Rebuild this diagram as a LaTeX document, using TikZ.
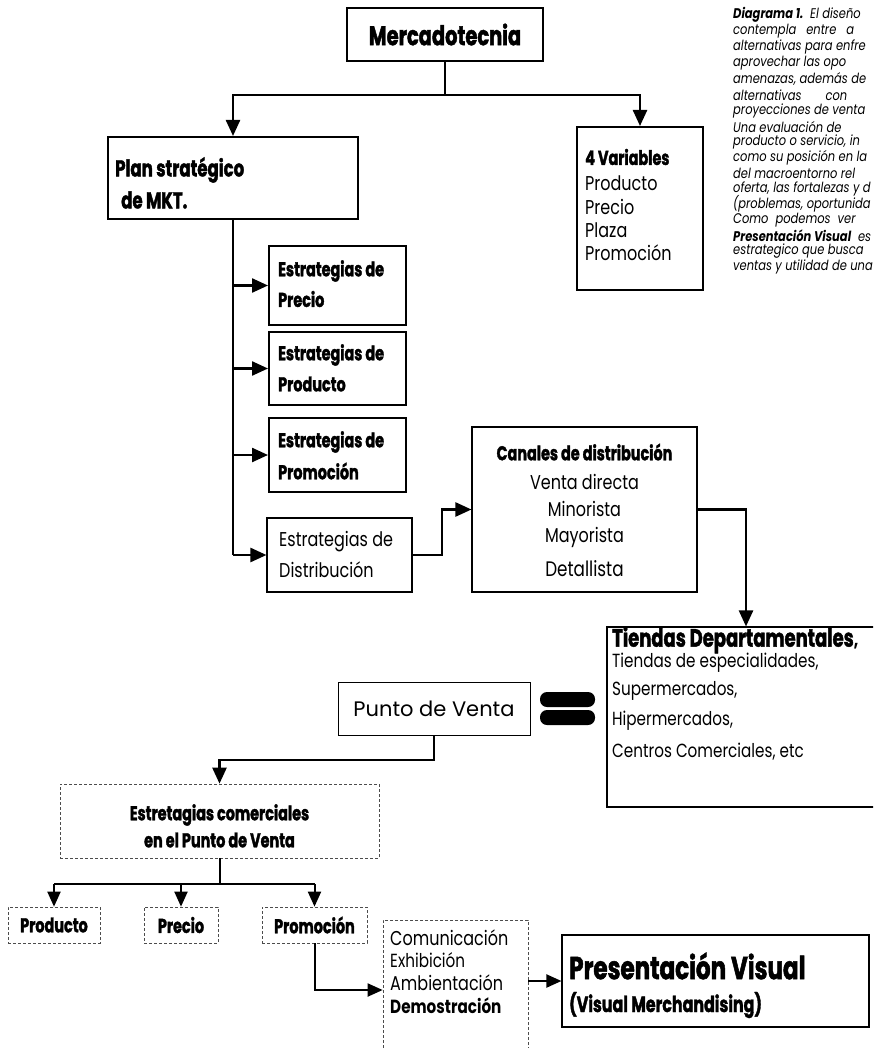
\documentclass[tikz,border=0pt]{standalone}
\usepackage{fontspec}
\setmainfont{Poppins}
\newfontfamily\rg{Poppins}[FakeStretch=0.8]
\newfontfamily\rgw{Poppins}
\newfontfamily\hv{Poppins}[FakeStretch=0.72, FakeBold=1.6]
\newfontfamily\cp{Poppins}[FakeStretch=0.82]
\usetikzlibrary{arrows.meta}
\newcommand\fHV[1]{\hv\bfseries\fontsize{#1}{#1}\selectfont}
\newcommand\fRG[1]{\rg\fontsize{#1}{#1}\selectfont}
\newcommand\fCP{\cp\itshape\fontsize{14}{14}\selectfont}
\begin{document}
\begin{tikzpicture}[x=1pt,y=-1pt,
  bx/.style={draw, line width=2pt, inner sep=0pt},
  tb/.style={draw, line width=1.1pt, inner sep=0pt},
  db/.style={draw=black!70, densely dashed, line width=0.7pt, inner sep=0pt},
  conn/.style={line width=2.4pt},
  arr/.style={line width=2.4pt, -{Triangle[length=16pt,width=14pt]}},
  arrb/.style={line width=2pt, -{Triangle[length=15pt,width=13pt]}},
  tx/.style={inner sep=0pt, anchor=west},
  tc/.style={inner sep=0pt},
]
\useasboundingbox (0,0) rectangle (873,1048);
\clip (0,0) rectangle (873,1048);

% ---------- top ----------
\node[bx, minimum width=196pt, minimum height=53pt, font=\fHV{27}] (merc) at (445,34.5) {Mercadotecnia};

\node[bx, minimum width=250pt, minimum height=82pt] (plan) at (233,178) {};
\node[tx, font=\fHV{23}] (planT1) at (115,170) {Plan stratégico};
\node[tx, font=\fHV{23}] (planT2) at (121,200) {de MKT.};

\node[bx, minimum width=126pt, minimum height=163pt] (vars) at (640,208.5) {};
\node[tx, font=\fHV{20}] (v0) at (585,157) {4 Variables};
\node[tx, font=\fRG{20}] (v1) at (585,183) {Producto};
\node[tx, font=\fRG{20}] (v2) at (585,207) {Precio};
\node[tx, font=\fRG{20}] (v3) at (585,230) {Plaza};
\node[tx, font=\fRG{20}] (v4) at (585,253) {Promoción};

\coordinate (mj) at (445,95);
\draw[conn] (merc.south) -- (mj);
\draw[arr] (mj) -| (plan.north);
\draw[arr] (mj) -| (vars.north);

% ---------- estrategias ----------
\node[bx, minimum width=137pt, minimum height=79pt] (ePrecio) at (337.5,285.5) {};
\node[tx, font=\fHV{20}] (ePrecioT1) at (278,271) {Estrategias de};
\node[tx, font=\fHV{20}] (ePrecioT2) at (278,299) {Precio};

\node[bx, minimum width=137pt, minimum height=73pt] (eProd) at (337.5,368.5) {};
\node[tx, font=\fHV{20}] (eProdT1) at (278,355) {Estrategias de};
\node[tx, font=\fHV{20}] (eProdT2) at (278,384) {Producto};

\node[bx, minimum width=137pt, minimum height=74pt] (ePromo) at (337.5,455) {};
\node[tx, font=\fHV{20}] (ePromoT1) at (278,442) {Estrategias de};
\node[tx, font=\fHV{20}] (ePromoT2) at (278,471) {Promoción};

\node[tb, minimum width=145pt, minimum height=74pt] (eDist) at (339.5,555) {};
\node[tx, font=\fRG{20}] (eDistT1) at (279,542) {Estrategias de};
\node[tx, font=\fRG{20}] (eDistT2) at (279,570) {Distribución};

\draw[conn] (plan.south) -- (plan.south |- eDist.west);
\draw[arr] (plan.south |- ePrecio.west) -- (ePrecio.west);
\draw[arr] (plan.south |- eProd.west) -- (eProd.west);
\draw[arr] (plan.south |- ePromo.west) -- (ePromo.west);
\draw[arr] (plan.south |- eDist.west) -- (eDist.west);

% ---------- canales ----------
\node[tb, minimum width=225pt, minimum height=165pt] (canales) at (584.5,509.5) {};
\node[tc, font=\fHV{20}] (c0) at (584.5,452) {Canales de distribución};
\node[tc, font=\fRG{20}] (c1) at (584.5,482) {Venta directa};
\node[tc, font=\fRG{20}] (c2) at (584.5,509) {Minorista};
\node[tc, font=\fRG{20}] (c3) at (584.5,537) {Mayorista};
\node[tc, font=\fRG{21}] (c4) at (584.5,569) {Detallista};

\coordinate (dk) at (442,0);
\draw[arr] (eDist.east) -- (eDist.east -| dk) -- (dk |- canales.west) -- (canales.west);

% ---------- tiendas ----------
\node[tb, minimum width=278pt, minimum height=180pt] (tiendas) at (746,717) {};
\node[tx, font=\fHV{25}] (t0) at (612,640) {Tiendas Departamentales\rg\fontsize{20}{20}\selectfont,};
\node[tx, font=\fRG{19}] (t1) at (612,663) {Tiendas de especialidades,};
\node[tx, font=\fRG{19}] (t2) at (612,691) {Supermercados,};
\node[tx, font=\fRG{19}] (t3) at (612,721) {Hipermercados,};
\node[tx, font=\fRG{19}] (t4) at (612,752) {Centros Comerciales, etc};

\draw[arr] (canales.east) -| (tiendas.north);

% ---------- punto de venta ----------
\node[tb, line width=0.9pt, minimum width=192pt, minimum height=53pt, font=\rgw\fontsize{21}{21}\selectfont] (punto) at (434,708.5) {Punto de Venta};
\node[fill, rounded corners=7pt, minimum width=55pt, minimum height=15pt, inner sep=0pt] (eq1) at (567.5,699.5) {};
\node[fill, rounded corners=7pt, minimum width=55pt, minimum height=15pt, inner sep=0pt] (eq2) at (567.5,717.5) {};

\node[db, minimum width=319pt, minimum height=74pt] (ecom) at (219.5,821) {};
\node[tc, font=\fHV{20}] (ecomT1) at (219.5,815) {Estretagias comerciales};
\node[tc, font=\fHV{20}] (ecomT2) at (219.5,840) {en el Punto de Venta};

\coordinate (pj) at (0,760);
\draw[arr] (punto.south) -- (punto.south |- pj) -| (ecom.north);

% ---------- bottom row ----------
\node[db, minimum width=92pt, minimum height=36pt, font=\fHV{20}] (pProd) at (54,925) {Producto};
\node[db, minimum width=74pt, minimum height=36pt, font=\fHV{20}] (pPrec) at (181,925) {Precio};
\node[db, minimum width=105pt, minimum height=36pt, font=\fHV{20}] (pProm) at (314.5,925) {Promoción};

\coordinate (bj) at (0,884);
\draw[line width=2pt] (ecom.south) -- (ecom.south |- bj);
\draw[line width=2pt] (pProd.north |- bj) -- (pProm.north |- bj);
\draw[arrb] (pProd.north |- bj) -- (pProd.north);
\draw[arrb] (pPrec.north |- bj) -- (pPrec.north);
\draw[arrb] (pProm.north |- bj) -- (pProm.north);

\node[db, minimum width=145pt, minimum height=140pt] (comm) at (455.5,990) {};
\node[tx, font=\fRG{20}] (m1) at (390,938) {Comunicación};
\node[tx, font=\fRG{19}] (m2) at (390,960) {Exhibición};
\node[tx, font=\fRG{20}] (m3) at (390,983) {Ambientación};
\node[tx, font=\rg\bfseries\fontsize{19}{19}\selectfont] (m4) at (390,1006) {Demostración};

\draw[arrb] (pProm.south) |- (comm.west);

\node[tb, minimum width=307pt, minimum height=92pt] (pres) at (715.5,981) {};
\node[tx, font=\fHV{32}] (pr1) at (569,966) {Presentación Visual};
\node[tx, font=\fHV{22}] (pr2) at (569,1005) {(Visual Merchandising)};

\draw[arrb] (pres.west -| comm.east) -- (pres.west);

% ---------- caption ----------
\begin{scope}[every node/.style={tx, font=\fCP}]
\node (k1) at (733,15) {\textbf{Diagrama 1.}\ \ El diseño};
\node (k2) at (733,31) {contempla\hspace{10pt}entre\hspace{10pt}a};
\node (k3) at (733,47) {alternativas para enfre};
\node (k4) at (733,63) {aprovechar las opo};
\node (k5) at (733,79) {amenazas, además de};
\node (k6) at (733,95) {alternativas\hspace{24pt}con};
\node (k7) at (733,111) {proyecciones de venta};
\node (k8) at (733,127) {Una evaluación de};
\node (k9) at (733,142) {producto o servicio, in};
\node (k10) at (733,158) {como su posición en la};
\node (k11) at (733,173) {del macroentorno rel};
\node (k12) at (733,189) {oferta, las fortalezas y d};
\node (k13) at (733,204) {(problemas, oportunida};
\node (k14) at (733,220) {Como\hspace{7pt}podemos\hspace{7pt}ver};
\node (k15) at (733,236) {\textbf{Presentación Visual}\ \ es};
\node (k16) at (733,251) {estrategico que busca};
\node (k17) at (733,267) {ventas y utilidad de una};
\end{scope}
\end{tikzpicture}
\end{document}
